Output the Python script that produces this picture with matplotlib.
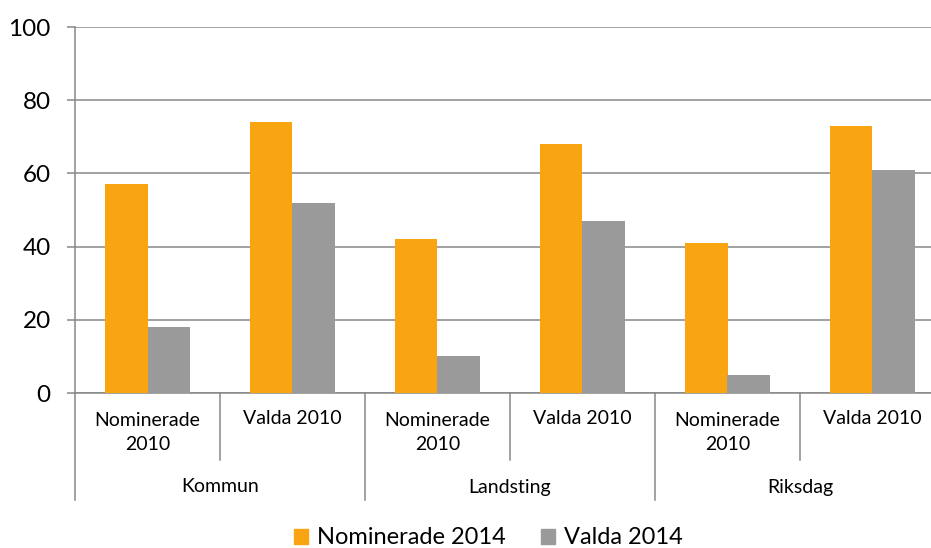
import numpy as np
from matplotlib import pyplot as plt
from matplotlib.patches import Patch

# data
groups = ['Kommun', 'Landsting', 'Riksdag']
subcats = ['Nominerade\n2010', 'Valda 2010']
nominerade_2014 = [57, 74, 42, 68, 41, 73]
valda_2014 = [18, 52, 10, 47, 5, 61]

orange = '#F9A411'
grey = '#9A9A9A'
line_col = '#878787'

plt.rcParams['font.family'] = ['Lato', 'DejaVu Sans']

fig = plt.figure(figsize=(9.31, 5.48), dpi=100)
W, H = 931, 548
# plot area in pixels: x 75..945 (runs past the right edge), y 27..393
ax = fig.add_axes([75 / W, (H - 393) / H, (945 - 75) / W, (393 - 27) / H])

n = len(nominerade_2014)
x = np.arange(n) + 0.5
bw = 0.29
ax.bar(x - bw / 2, nominerade_2014, bw, color=orange, zorder=3)
ax.bar(x + bw / 2, valda_2014, bw, color=grey, zorder=3)

ax.set_xlim(0, n)
ax.set_ylim(0, 100)
ax.set_yticks(range(0, 101, 20))
ax.yaxis.grid(True, color=line_col, linewidth=1.1, zorder=0)
ax.tick_params(axis='y', length=5.5, width=1.1, color=line_col, labelsize=17.5, pad=12)
ax.tick_params(axis='x', bottom=False, labelbottom=False)
for s in ['top', 'right']:
    ax.spines[s].set_visible(False)
for s in ['left', 'bottom']:
    ax.spines[s].set_color(line_col)
    ax.spines[s].set_linewidth(1.1)

# multi-level category axis
tr = ax.get_xaxis_transform()
axh = 393 - 27
y_sub = -(460 - 393) / axh
y_grp = -(500 - 393) / axh
for i in range(n + 1):
    yb = y_grp if i % 2 == 0 else y_sub
    ax.plot([i, i], [0, yb], color=line_col, linewidth=1.1, transform=tr, clip_on=False)

for i in range(n):
    lab = subcats[i % 2]
    yc = -((432 if '\n' in lab else 419) - 393) / axh
    ax.text(x[i], yc, lab, transform=tr, ha='center', va='center', fontsize=14,
            linespacing=1.5)
for g, name in enumerate(groups):
    ax.text(2 * g + 1, -(487 - 393) / axh, name, transform=tr, ha='center',
            va='center', fontsize=14)

handles = [Patch(color=orange, label='Nominerade 2014'),
           Patch(color=grey, label='Valda 2014')]
fig.legend(handles=handles, loc='center', bbox_to_anchor=(488 / W, (H - 538) / H),
           ncol=2, frameon=False, fontsize=17, handlelength=0.62, handleheight=0.62,
           handletextpad=0.35, columnspacing=1.5, borderpad=0)

plt.savefig('out.png', dpi=100)
